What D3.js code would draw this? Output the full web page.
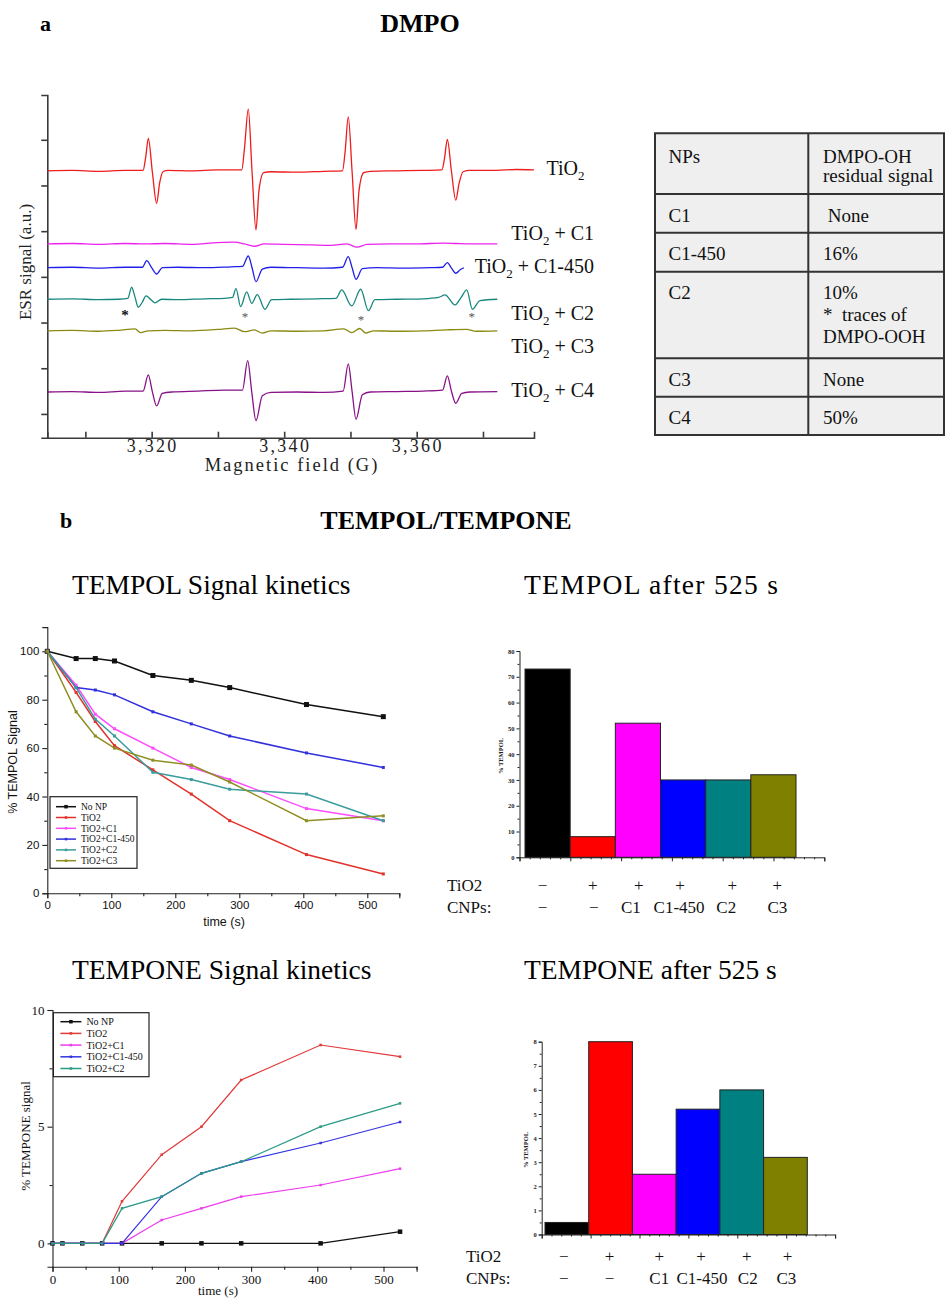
<!DOCTYPE html>
<html><head><meta charset="utf-8">
<script src="https://cdn.jsdelivr.net/npm/d3@7"></script>
<style>
body{margin:0;background:#fff;}
svg text{font-family:"Liberation Serif","Times New Roman",serif;}
</style></head><body>
<svg id="fig" width="945" height="1299" xmlns="http://www.w3.org/2000/svg"></svg>
<script>
// ---------------- DATA ----------------
// ESR spectra (DMPO): [field (G), signal (a.u.)]
const esrTiO2 = [[3304.25,5.32],[3308,5.33],[3312,5.31],[3316,5.33],[3318.7,5.33],[3319.1,5.62],[3319.5,6.03],[3320.1,5.3],[3320.75,4.61],[3321.2,5.05],[3321.7,5.3],[3322.5,5.33],[3326,5.32],[3330,5.34],[3333.6,5.34],[3334.0,5.8],[3334.58,6.67],[3335.15,5.3],[3335.74,4.03],[3336.2,4.9],[3336.9,5.28],[3338,5.3],[3342,5.29],[3346,5.31],[3348.8,5.32],[3349.2,5.75],[3349.67,6.5],[3350.25,5.3],[3350.84,4.04],[3351.3,4.9],[3352,5.28],[3353,5.31],[3357,5.32],[3361,5.33],[3363.8,5.34],[3364.2,5.6],[3364.62,6.01],[3365.25,5.3],[3365.89,4.68],[3366.4,5.05],[3367,5.3],[3368,5.33],[3372,5.33],[3375,5.35],[3377.7,5.34]];
const esrC1 = [[3304.25,3.72],[3308,3.73],[3312,3.71],[3316,3.73],[3319,3.72],[3322,3.73],[3326,3.71],[3330,3.75],[3332.5,3.76],[3334,3.72],[3335.5,3.67],[3337,3.72],[3340,3.71],[3344,3.7],[3347,3.69],[3349.5,3.72],[3351,3.65],[3352.5,3.71],[3356,3.72],[3360,3.72],[3364,3.74],[3366,3.73],[3369,3.72],[3372.16,3.72]];
const esrC1_450 = [[3304.25,3.2],[3308,3.21],[3312,3.19],[3316,3.21],[3318.6,3.21],[3319.25,3.355],[3320.0,3.2],[3320.75,3.063],[3321.6,3.2],[3324,3.21],[3328,3.2],[3332,3.22],[3333.7,3.23],[3334.58,3.457],[3335.15,3.2],[3335.74,2.895],[3336.7,3.17],[3338,3.21],[3342,3.2],[3346,3.19],[3348.8,3.21],[3349.67,3.442],[3350.25,3.2],[3350.84,2.947],[3351.8,3.18],[3354,3.2],[3358,3.19],[3362,3.2],[3363.9,3.21],[3364.62,3.311],[3365.25,3.19],[3365.89,3.079],[3366.6,3.16],[3367.13,3.2]];
const esrC2 = [[3304.25,2.51],[3308,2.52],[3312,2.5],[3315,2.51],[3316.4,2.53],[3316.98,2.773],[3317.5,2.55],[3317.98,2.335],[3318.6,2.45],[3319.14,2.582],[3319.9,2.5],[3320.5,2.43],[3321.5,2.51],[3324,2.5],[3328,2.52],[3331,2.53],[3332.2,2.55],[3332.73,2.742],[3333.43,2.348],[3334.34,2.67],[3335.1,2.422],[3335.94,2.611],[3337.1,2.291],[3338.1,2.5],[3341,2.51],[3345,2.52],[3347.8,2.53],[3348.68,2.713],[3350.19,2.363],[3351.55,2.729],[3352.7,2.26],[3353.7,2.5],[3357,2.51],[3361,2.52],[3363.3,2.55],[3364.27,2.604],[3365.78,2.385],[3366.7,2.55],[3367.55,2.713],[3368.4,2.291],[3369.55,2.48],[3372.16,2.51]];
const esrC3 = [[3304.25,1.82],[3308,1.83],[3312,1.81],[3315,1.83],[3317.5,1.86],[3318.3,1.78],[3319.5,1.82],[3322,1.83],[3326,1.82],[3330,1.85],[3332.5,1.88],[3334,1.8],[3335.5,1.84],[3336.7,1.77],[3338,1.82],[3342,1.81],[3346,1.82],[3349,1.86],[3350.2,1.78],[3351.4,1.87],[3352.3,1.77],[3353.5,1.82],[3357,1.81],[3361,1.82],[3364.5,1.84],[3367.5,1.85],[3369,1.81],[3372.16,1.82]];
const esrC4 = [[3304.25,0.48],[3308,0.49],[3312,0.47],[3316,0.5],[3318.7,0.5],[3319.49,0.853],[3320.1,0.49],[3320.75,0.175],[3321.6,0.45],[3323,0.48],[3327,0.5],[3331,0.52],[3333.7,0.52],[3334.49,1.166],[3335.1,0.49],[3335.74,-0.147],[3336.7,0.4],[3338,0.47],[3342,0.48],[3346,0.47],[3348.9,0.5],[3349.67,1.094],[3350.25,0.49],[3350.84,-0.116],[3351.8,0.42],[3353,0.48],[3357,0.49],[3361,0.5],[3363.9,0.52],[3364.62,0.832],[3365.25,0.49],[3365.89,0.234],[3366.8,0.45],[3368,0.48],[3372.16,0.49]];
const esrSeries = [esrTiO2, esrC1, esrC1_450, esrC2, esrC3, esrC4];
const esrNames = [["TiO","2",""],["TiO","2"," + C1"],["TiO","2"," + C1-450"],["TiO","2"," + C2"],["TiO","2"," + C3"],["TiO","2"," + C4"]];
const esrStars = [[3315.97,2.24],[3334.08,2.2],[3351.59,2.14],[3368.3,2.2]];
const esrFieldTicks = [3310,3320,3330,3340,3350,3360,3370];
const esrLabelTicks = [3320,3340,3360];
const esrSignalTicks = [0,1,2,3,4,5,6];

// Table
const tableHead = [["NPs"],["DMPO-OH","residual signal"]];
const tableRows = [[["C1"],[" None"]],[["C1-450"],["16%"]],[["C2"],["10%","*  traces of","DMPO-OOH"]],[["C3"],["None"]],[["C4"],["50%"]]];

// TEMPOL kinetics
const tempolTime = [0,45,75,105,165,225,285,405,525];
const tempolNoNP = [100,97,97,96,90,88,85,78,73];
const tempolTiO2 = [100,83,71,61,51,41,30,16,8];
const tempolC1 = [100,86,74,68,60,52,47,35,30];
const tempolC1_450 = [100,85,84,82,75,70,65,58,52];
const tempolC2 = [100,85,72,65,50,47,43,41,30];
const tempolC3 = [100,75,65,60,55,53,46,30,32];
const tempolNames = ["No NP","TiO2","TiO2+C1","TiO2+C1-450","TiO2+C2","TiO2+C3"];
const tempolTicksX = [0,100,200,300,400,500];
const tempolTicksY = [0,20,40,60,80,100];

// TEMPONE kinetics
const temponeTime = [0,15,45,75,105,165,225,285,405,525];
const temponeNoNP = [0,0,0,0,0,0,0,0,0,0.5];
const temponeTiO2 = [0,0,0,0,1.8,3.8,5,7,8.5,8];
const temponeC1 = [0,0,0,0,0,1,1.5,2,2.5,3.2];
const temponeC1_450 = [0,0,0,0,0,2,3,3.5,4.3,5.2];
const temponeC2 = [0,0,0,0,1.5,2,3,3.5,5,6];
const temponeNames = ["No NP","TiO2","TiO2+C1","TiO2+C1-450","TiO2+C2"];
const temponeTicksY = [0,5,10];

// Bars after 525 s
const barCats = ["none","TiO2","TiO2+C1","TiO2+C1-450","TiO2+C2","TiO2+C3"];
const tempolAfter = [73,8,52,30,30,32];
const temponeAfter = [0.5,8,2.5,5.2,6,3.2];
const rowTiO2 = ["\u2212","+","+","+","+","+"];
const rowCNPs = ["\u2212","\u2212","C1","C1-450","C2","C3"];
const tempolBarTicks = [0,10,20,30,40,50,60,70,80];
const temponeBarTicks = [0,1,2,3,4,5,6,7,8];

// ---------------- DRAW ----------------
const svg = d3.select("#fig");
const SANS = '"Liberation Sans",Arial,sans-serif';

function text(g, x, y, s, o = {}) {
  const t = g.append("text").attr("x", x).attr("y", y).text(s);
  if (o.size) t.attr("font-size", o.size);
  if (o.anchor) t.attr("text-anchor", o.anchor);
  if (o.weight) t.attr("font-weight", o.weight);
  if (o.family) t.style("font-family", o.family);
  if (o.ls) t.attr("letter-spacing", o.ls);
  if (o.fill) t.attr("fill", o.fill);
  if (o.rot) t.attr("transform", `rotate(-90,${x},${y})`);
  return t;
}

// Headings
text(svg, 40, 31, "a", {size: 22, weight: "bold"});
text(svg, 420, 32, "DMPO", {size: 26, weight: "bold", anchor: "middle"});
text(svg, 60, 528, "b", {size: 22, weight: "bold"});
text(svg, 446, 529, "TEMPOL/TEMPONE", {size: 26, weight: "bold", anchor: "middle"});
text(svg, 72, 594, "TEMPOL Signal kinetics", {size: 27.5});
text(svg, 524, 594, "TEMPOL after 525 s", {size: 27.5}).attr("textLength", 254).attr("lengthAdjust", "spacing");
text(svg, 72, 979, "TEMPONE Signal kinetics", {size: 27.5});
text(svg, 524, 979, "TEMPONE after 525 s", {size: 27.5});

// ---------- ESR panel ----------
{
  const g = svg.append("g");
  const x = d3.scaleLinear().domain([3304.25, 3377.7]).range([47.3, 534]);
  const y = d3.scaleLinear().domain([-0.52, 6.98]).range([437.7, 95]);
  const axisCol = "#3a3a3a";
  const gx = g.append("g").attr("transform", "translate(0,437.7)")
    .call(d3.axisBottom(x).tickValues(esrFieldTicks).tickSize(-6).tickFormat(""));
  const gy = g.append("g").attr("transform", "translate(47.3,0)")
    .call(d3.axisLeft(y).tickValues(esrSignalTicks).tickSize(6).tickFormat(""));
  [gx, gy].forEach(a => { a.selectAll("path,line").attr("stroke", axisCol).attr("stroke-width", 1.6); });
  esrLabelTicks.forEach(v => text(g, x(v) + 1, 452, d3.format(",")(v), {size: 18, anchor: "middle", ls: 2.3, fill: "#222"}));
  text(g, 292, 471, "Magnetic field (G)", {size: 18.5, anchor: "middle", ls: 2.0, fill: "#222"});
  text(g, 31, 262, "ESR signal (a.u.)", {size: 17, anchor: "middle", rot: true, fill: "#222"});

  const cols = ["#ee1c1c", "#ee22ee", "#2020e8", "#17887e", "#8a8a12", "#881188"];
  const line = d3.line().x(d => x(d[0])).y(d => y(d[1])).curve(d3.curveMonotoneX);
  esrSeries.forEach((s, i) => {
    g.append("path").datum(s).attr("d", line).attr("fill", "none")
      .attr("stroke", cols[i]).attr("stroke-width", 1.3).attr("stroke-linejoin", "round");
  });
  // asterisks
  esrStars.forEach((d, i) => {
    text(g, x(d[0]), y(d[1]) + (i === 0 ? 8.5 : 7.5), "*", {size: i === 0 ? 15 : 13, anchor: "middle",
      weight: i === 0 ? "bold" : "normal", fill: i === 0 ? "#111" : "#555"});
  });
  // labels
  const labY = [175, 240, 273, 320, 353, 396.5];
  esrNames.forEach((n, i) => {
    const t = g.append("text").attr("font-size", 20).attr("fill", "#111").attr("y", labY[i]);
    if (i === 0) t.attr("x", 546.5); else t.attr("x", 594).attr("text-anchor", "end");
    t.append("tspan").text(n[0]);
    t.append("tspan").text(n[1]).attr("font-size", 13).attr("dy", 5);
    if (n[2]) t.append("tspan").text(n[2]).attr("dy", -5);
  });
}

// ---------- Table ----------
{
  const g = svg.append("g");
  const X0 = 655, X1 = 808.3, X2 = 944;
  const ys = [133.3, 194, 232.7, 271.7, 358.3, 396.7, 435];
  g.append("rect").attr("x", X0).attr("y", ys[0]).attr("width", X2 - X0).attr("height", ys[6] - ys[0]).attr("fill", "#efefef");
  ys.forEach(v => g.append("line").attr("x1", X0 - 1).attr("x2", X2 + 1).attr("y1", v).attr("y2", v).attr("stroke", "#333").attr("stroke-width", 2));
  [X0, X1, X2].forEach(v => g.append("line").attr("x1", v).attr("x2", v).attr("y1", ys[0]).attr("y2", ys[6]).attr("stroke", "#333").attr("stroke-width", 2));
  const fs = 19;
  tableHead[0].forEach((s, k) => text(g, 668.5, 163.3, s, {size: fs, fill: "#111"}));
  tableHead[1].forEach((s, k) => text(g, 823, 163.3 + k * 18.5, s, {size: fs, fill: "#111"}));
  tableRows.forEach((r, i) => {
    const base = ys[i + 1] + 27.7;
    r[0].forEach((s, k) => text(g, 668.5, base + k * 21.7, s, {size: fs, fill: "#111"}).style("white-space", "pre"));
    r[1].forEach((s, k) => text(g, 823, base + k * 21.7, s, {size: fs, fill: "#111"}).style("white-space", "pre"));
  });
}

// ---------- line chart helper ----------
function kinetics(cfg) {
  const g = svg.append("g");
  const x = d3.scaleLinear().domain(cfg.xd).range(cfg.xr);
  const y = d3.scaleLinear().domain(cfg.yd).range(cfg.yr);
  const fam = cfg.family;
  g.append("g").attr("transform", `translate(0,${cfg.yr[0]})`)
    .call(d3.axisBottom(x).tickValues(cfg.xt).tickSize(5).tickPadding(3));
  g.append("g").attr("transform", `translate(0,${cfg.yr[0]})`)
    .call(d3.axisBottom(x).tickValues(cfg.xm).tickSize(3).tickFormat("")).select(".domain").remove();
  g.append("g").attr("transform", `translate(${cfg.xr[0]},0)`)
    .call(d3.axisLeft(y).tickValues(cfg.yt).tickSize(5).tickPadding(3));
  g.append("g").attr("transform", `translate(${cfg.xr[0]},0)`)
    .call(d3.axisLeft(y).tickValues(cfg.ym).tickSize(3).tickFormat("")).select(".domain").remove();
  g.selectAll(".tick text").attr("font-size", cfg.tickFs).style("font-family", fam).attr("fill", "#111");
  g.selectAll("path.domain, .tick line").attr("stroke", "#222").attr("stroke-width", 1.1);
  text(g, cfg.xlab[0], cfg.xlab[1], "time (s)", {size: cfg.labFs, anchor: "middle", family: fam, fill: "#111"});
  text(g, cfg.ylab[0], cfg.ylab[1], cfg.ytitle, {size: cfg.labFs, anchor: "middle", family: fam, rot: true, fill: "#111"});

  const line = d3.line().x((d, i) => x(cfg.time[i])).y(d => y(d));
  cfg.series.forEach((s, i) => {
    g.append("path").datum(s).attr("d", line).attr("fill", "none").attr("stroke", cfg.colors[i]).attr("stroke-width", cfg.sw);
    const m = i === 0 ? cfg.big : cfg.small;
    g.selectAll(null).data(s).enter().append("rect")
      .attr("x", (d, k) => x(cfg.time[k]) - m / 2).attr("y", d => y(d) - m / 2)
      .attr("width", m).attr("height", m).attr("fill", cfg.colors[i]);
  });
  // legend
  const L = cfg.legend;
  const lg = g.append("g");
  lg.append("rect").attr("x", L.x).attr("y", L.y).attr("width", L.w).attr("height", L.h)
    .attr("fill", "#fff").attr("stroke", "#222").attr("stroke-width", 1.2);
  cfg.names.forEach((n, i) => {
    const yy = L.y + L.first + i * L.step;
    lg.append("line").attr("x1", L.x + L.l0).attr("x2", L.x + L.l1).attr("y1", yy).attr("y2", yy)
      .attr("stroke", cfg.colors[i]).attr("stroke-width", 1.5);
    const m = i === 0 ? 3.5 : 2.5;
    lg.append("rect").attr("x", L.x + (L.l0 + L.l1) / 2 - m / 2).attr("y", yy - m / 2).attr("width", m).attr("height", m).attr("fill", cfg.colors[i]);
    text(lg, L.x + L.tx, yy + L.fs * 0.35, n, {size: L.fs, fill: "#111"});
  });
}

kinetics({
  xd: [0, 550], xr: [47.3, 399.3], yd: [0, 110], yr: [893.3, 627.1],
  xt: tempolTicksX, xm: [50, 150, 250, 350, 450, 550], yt: tempolTicksY, ym: [10, 30, 50, 70, 90],
  family: SANS, tickFs: 11.5, labFs: 12.5, xlab: [224, 926], ylab: [17, 762], ytitle: "% TEMPOL Signal",
  time: tempolTime, series: [tempolNoNP, tempolTiO2, tempolC1, tempolC1_450, tempolC2, tempolC3],
  colors: ["#111111", "#e2302b", "#ff4cff", "#3030dc", "#3a9c9c", "#8e8e22"],
  names: tempolNames, sw: 1.5, big: 5, small: 3,
  legend: {x: 50, y: 796.7, w: 87, h: 71.6, first: 10, step: 10.8, l0: 6, l1: 26, tx: 31, fs: 9.5}
});

kinetics({
  xd: [0, 550], xr: [52.5, 416.6], yd: [-1, 10], yr: [1266.7, 1010],
  xt: [0, 100, 200, 300, 400, 500], xm: [50, 150, 250, 350, 450, 550], yt: temponeTicksY, ym: [2.5, 7.5],
  family: '"Liberation Serif","Times New Roman",serif', tickFs: 13, labFs: 13, xlab: [218, 1295], ylab: [30, 1136], ytitle: "% TEMPONE signal",
  time: temponeTime, series: [temponeNoNP, temponeTiO2, temponeC1, temponeC1_450, temponeC2],
  colors: ["#111111", "#e03a3a", "#ee3cee", "#3434e0", "#2b9a86"],
  names: temponeNames, sw: 1.2, big: 4.5, small: 2.5,
  legend: {x: 53.4, y: 1012.7, w: 95.6, h: 64, first: 9, step: 11.7, l0: 7, l1: 28, tx: 33, fs: 10}
});

// ---------- bar chart helper ----------
function bars(cfg) {
  const g = svg.append("g");
  const y = d3.scaleLinear().domain(cfg.yd).range(cfg.yr);
  const xb = d3.scaleBand().domain(barCats).range(cfg.band).padding(0);
  const xn = d3.scaleLinear().domain([0, 6]).range([cfg.ax, cfg.ax + 6 * cfg.unit]);
  const cols = ["#000000", "#ff0000", "#ff00ff", "#0000ff", "#008080", "#808000"];
  g.selectAll(null).data(cfg.vals).enter().append("rect")
    .attr("x", (d, i) => xb(barCats[i])).attr("y", d => y(d))
    .attr("width", xb.bandwidth()).attr("height", d => y(0) - y(d))
    .attr("fill", (d, i) => cols[i]).attr("stroke", "#222").attr("stroke-width", 1);
  g.append("g").attr("transform", `translate(0,${cfg.yr[0]})`)
    .call(d3.axisBottom(xn).tickValues(d3.range(0, 7)).tickSize(4).tickFormat(""));
  g.append("g").attr("transform", `translate(0,${cfg.yr[0]})`)
    .call(d3.axisBottom(xn).tickValues(d3.range(0, 30).map(k => k * 0.2).filter(v => Math.abs(v - Math.round(v)) > 0.01)).tickSize(2).tickFormat(""))
    .select(".domain").remove();
  g.append("g").attr("transform", `translate(${cfg.ax},0)`)
    .call(d3.axisLeft(y).tickValues(cfg.yt).tickSize(3).tickPadding(2));
  g.append("g").attr("transform", `translate(${cfg.ax},0)`)
    .call(d3.axisLeft(y).tickValues(cfg.ym).tickSize(2).tickFormat("")).select(".domain").remove();
  g.selectAll(".tick text").attr("font-size", 6.5).attr("font-weight", "bold").attr("fill", "#222");
  g.selectAll("path.domain, .tick line").attr("stroke", "#222").attr("stroke-width", 1);
  text(g, cfg.ylab[0], cfg.ylab[1], "% TEMPOL", {size: 6.5, weight: "bold", anchor: "middle", rot: true, fill: "#222"});
  // condition rows
  text(g, cfg.rowX, cfg.row1, "TiO2", {size: 17, fill: "#111"});
  text(g, cfg.rowX, cfg.row2, "CNPs:", {size: 17, fill: "#111"});
  rowTiO2.forEach((s, i) => text(g, xb(barCats[i]) + xb.bandwidth() / 2 + cfg.off1[i], cfg.row1, s, {size: 17, anchor: "middle", fill: "#111"}));
  rowCNPs.forEach((s, i) => text(g, xb(barCats[i]) + xb.bandwidth() / 2 + cfg.off2[i], cfg.row2, s, {size: 17, anchor: "middle", fill: "#111"}));
}

bars({
  yd: [0, 80], yr: [857.3, 651], band: [525, 796], ax: 519.5, unit: 50.8, vals: tempolAfter,
  yt: tempolBarTicks, ym: [5, 15, 25, 35, 45, 55, 65, 75], ylab: [503, 756],
  rowX: 447, row1: 891, row2: 913, off1: [-5, 0, 1, -3, 4, 4], off2: [-5, 1, -7, -4, -2, 4]
});
bars({
  yd: [0, 8], yr: [1234.5, 1041.7], band: [545, 807.3], ax: 541.7, unit: 48.9, vals: temponeAfter,
  yt: temponeBarTicks, ym: [0.5, 1.5, 2.5, 3.5, 4.5, 5.5, 6.5, 7.5], ylab: [528, 1150],
  rowX: 466, row1: 1262, row2: 1284, off1: [-3, -1, 5, 3, 5, 2], off2: [-3, -1, 5, 4, 6, 1]
});
</script></body></html>
